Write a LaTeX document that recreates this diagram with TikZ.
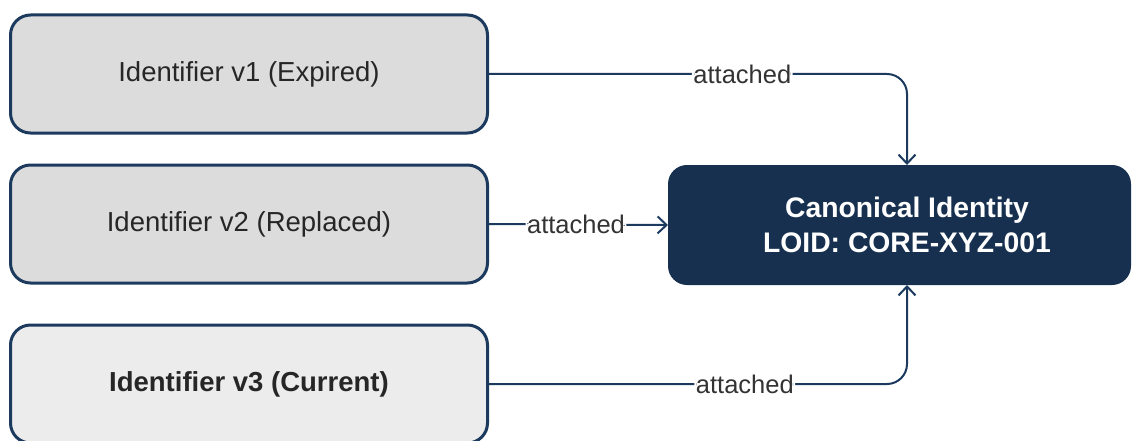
\documentclass[tikz,border=0pt]{standalone}
\usepackage{fontspec}
\setmainfont{Liberation Sans}
\usetikzlibrary{arrows.meta,calc}

\definecolor{navy}{HTML}{1C3A5E}
\definecolor{canonfill}{HTML}{17304F}
\definecolor{idgray}{HTML}{DCDCDC}
\definecolor{idlight}{HTML}{ECECEC}

\begin{document}
\begin{tikzpicture}[x=1pt,y=-1pt,
    idbox/.style={draw=navy,line width=3pt,rounded corners=20pt,fill=idgray,
      minimum width=477pt,minimum height=118pt,text=black!85,
      font=\fontsize{27.5}{33}\selectfont},
    link/.style={draw=navy,line width=2pt,rounded corners=20pt,
      -{Straight Barb[length=9pt,width=17pt,line width=2pt]}},
    tag/.style={fill=white,inner sep=1.5pt,text=black!80,
      font=\fontsize{25.5}{30}\selectfont}]

  \pgfmathsetmacro{\boxX}{249}
  \useasboundingbox (0,0) rectangle (1134,441);
  \clip (0,0) rectangle (1134,441);

  \node[idbox] (idone) at (\boxX,74) {Identifier v1 (Expired)};
  \node[idbox] (idtwo) at (\boxX,224) {Identifier v2 (Replaced)};
  \node[idbox,fill=idlight,font=\fontsize{27.5}{33}\selectfont\bfseries] (idthree) at (\boxX,384) {Identifier v3 (Current)};

  % canonical identity
  \node[draw=canonfill,fill=canonfill,line width=2pt,rounded corners=18pt,
    minimum width=461pt,minimum height=118pt] (canon) at (899.5,225) {};
  \node[text=white,align=center,font=\fontsize{28.3}{35}\selectfont\bfseries] (canontext) at (907,225)
    {Canonical Identity\\LOID: CORE-XYZ-001};

  \draw[link] (idone.east) -| (canontext |- canon.north) node[tag,pos=0.303] {attached};
  \draw[link] (idtwo.east) -- (canon.west) node[tag,pos=0.486] {attached};
  \draw[link] (idthree.east) -| (canontext |- canon.south) node[tag,pos=0.306] {attached};
\end{tikzpicture}
\end{document}
